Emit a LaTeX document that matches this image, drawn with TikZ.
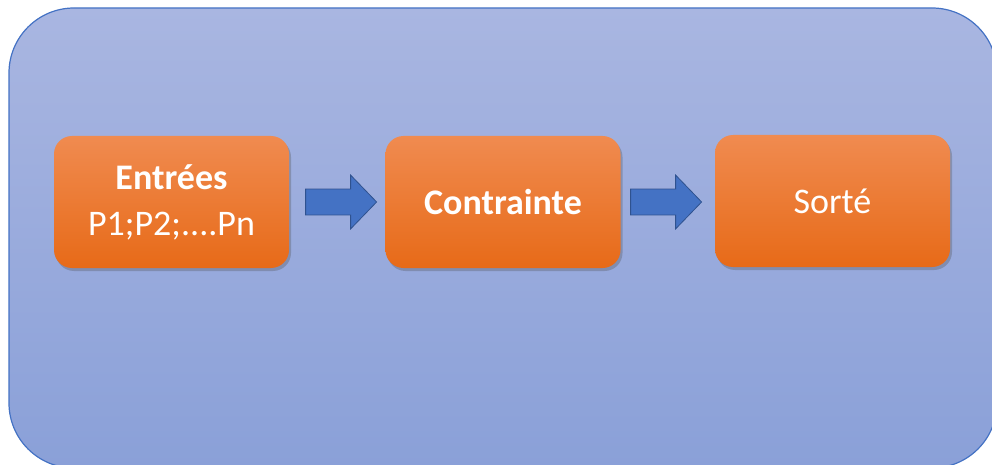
\documentclass[tikz,border=0pt]{standalone}
\usepackage{fontspec}
\setmainfont{Carlito}
\usetikzlibrary{shapes.arrows,shadows,calc}

\definecolor{panelTop}{HTML}{A9B6E1}
\definecolor{panelBottom}{HTML}{8AA0D8}
\definecolor{panelEdge}{HTML}{4472C4}
\definecolor{boxTop}{HTML}{F08B50}
\definecolor{boxBottom}{HTML}{E76A18}
\definecolor{arrowFill}{HTML}{4472C4}
\definecolor{arrowEdge}{HTML}{2F528F}

\tikzset{
  stagebox/.style={
    rectangle, rounded corners=18pt,
    minimum width=235pt, minimum height=132pt,
    top color=boxTop, bottom color=boxBottom,
    draw=none, text=white, align=center,
    font=\fontsize{36}{40}\selectfont,
    drop shadow={shadow xshift=2pt, shadow yshift=-3pt,
                 opacity=0.3, fill=black!70}
  },
  flowarrow/.style={
    single arrow, single arrow head extend=14pt,
    single arrow tip angle=92,
    inner sep=0pt, inner ysep=12.5pt,
    minimum height=71pt, anchor=tail,
    fill=arrowFill, draw=arrowEdge, line width=0.8pt
  }
}

\begin{document}
\begin{tikzpicture}[x=1pt,y=1pt]
  \useasboundingbox (0,0) rectangle (992,464);

  % outer panel
  \begin{scope}
    \clip (0,0) rectangle (992,464);
    \path[rounded corners=65pt, top color=panelTop, bottom color=panelBottom,
          draw=panelEdge, line width=1.2pt]
      (9,-4) rectangle (997,456);
  \end{scope}

  % process stages
  \node[stagebox] (entrees) at (171.5,262)
    {\textbf{Entrées}\\[6pt]P1;P2;....Pn};
  \node[stagebox] (contrainte) at (503,262) {\textbf{Contrainte}};
  \node[stagebox] (sorte) at (832.5,263) {Sorté};

  % block arrows between stages
  \node[flowarrow] (a1) at ($(entrees.east)+(16,0)$) {};
  \node[flowarrow] (a2) at ($(contrainte.east)+(9.5,0)$) {};
\end{tikzpicture}
\end{document}
